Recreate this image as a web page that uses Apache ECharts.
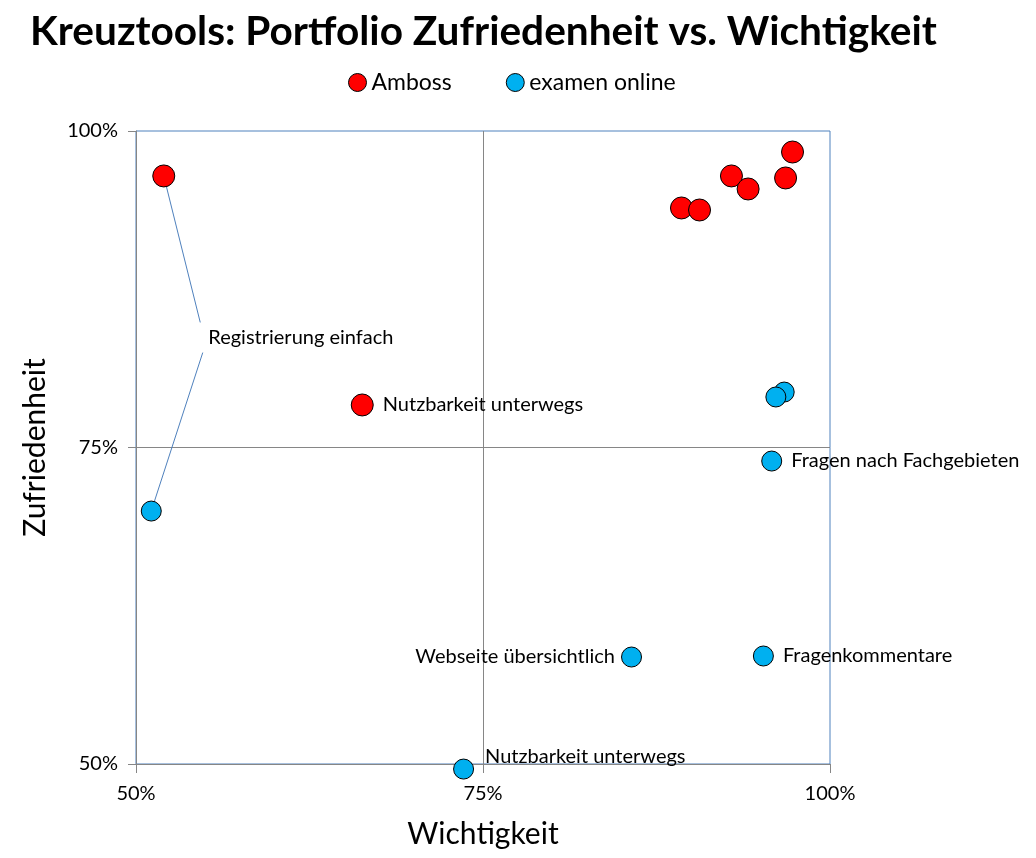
<!DOCTYPE html>
<html>
<head>
<meta charset="utf-8">
<script src="https://cdn.jsdelivr.net/npm/echarts@6/dist/echarts.min.js"></script>
<style>html,body{margin:0;padding:0;background:#fff}#c{width:1036px;height:858px}</style>
</head>
<body>
<div id="c"></div>
<script>
// Data (Wichtigkeit, Zufriedenheit) as fractions
const ambossX = [0.520, 0.663, 0.973, 0.968, 0.929, 0.941, 0.893, 0.906];
const ambossY = [0.9645, 0.7836, 0.9834, 0.9629, 0.9645, 0.9542, 0.9392, 0.9376];
const ambossLabels = ['Registrierung einfach', 'Nutzbarkeit unterwegs', '', '', '', '', '', ''];

const examenX = [0.511, 0.967, 0.961, 0.958, 0.857, 0.952, 0.736];
const examenY = [0.6998, 0.7938, 0.7899, 0.7393, 0.5845, 0.5853, 0.496];
const examenLabels = ['Registrierung einfach', '', '', 'Fragen nach Fachgebieten', 'Webseite übersichtlich', 'Fragenkommentare', 'Nutzbarkeit unterwegs'];

const xTicks = [0.5, 0.75, 1.0];
const yTicks = [0.5, 0.75, 1.0];

const FONT = 'Lato, "Open Sans", sans-serif';
const pct = v => Math.round(v * 100) + '%';

function labelFor(text, seriesName) {
  if (!text) return { show: false };
  const base = { show: true, formatter: text, fontFamily: FONT, fontSize: 20, color: '#000' };
  if (text === 'Registrierung einfach') {
    if (seriesName === 'Amboss') {
      return Object.assign(base, {
        position: [48, 133], align: 'left', verticalAlign: 'top',
        padding: [30, 0, 0, 8], backgroundColor: 'rgba(255,255,255,0)'
      });
    }
    return Object.assign(base, {
      position: [62, -148], align: 'left', verticalAlign: 'middle',
      color: 'rgba(0,0,0,0)'
    });
  }
  if (text === 'Webseite übersichtlich') return Object.assign(base, { position: 'left', distance: 6 });
  if (seriesName === 'examen online' && text === 'Nutzbarkeit unterwegs') {
    return Object.assign(base, { position: [32, -2], align: 'left', verticalAlign: 'middle' });
  }
  return Object.assign(base, { position: 'right', distance: 9 });
}

function build(xs, ys, labels, name) {
  return xs.map((x, i) => {
    const d = { value: [x, ys[i]], label: labelFor(labels[i], name) };
    d.labelLine = labels[i] === 'Registrierung einfach'
      ? { show: true, lineStyle: { color: '#4F81BD', width: 1 } }
      : { show: false };
    return d;
  });
}

const chart = echarts.init(document.getElementById('c'));
chart.setOption({
  animation: false,
  backgroundColor: '#fff',
  title: {
    text: 'Kreuztools: Portfolio Zufriedenheit vs. Wichtigkeit',
    left: 25, top: 6,
    textStyle: { fontFamily: FONT, fontWeight: 'bold', fontSize: 40.6, color: '#000' }
  },
  legend: {
    left: 343, top: 66,
    icon: 'circle', itemWidth: 18, itemHeight: 18, itemGap: 54,
    textStyle: { fontFamily: FONT, fontSize: 23, color: '#000' },
    data: [
      { name: 'Amboss', itemStyle: { color: '#FF0000', borderColor: '#000', borderWidth: 1 } },
      { name: 'examen online', itemStyle: { color: '#00B0F0', borderColor: '#000', borderWidth: 1 } }
    ]
  },
  grid: {
    left: 136, right: 206, top: 131, bottom: 94,
    show: true, borderColor: '#4F81BD', borderWidth: 1, backgroundColor: 'transparent'
  },
  xAxis: {
    type: 'value', min: 0.5, max: 1.0, interval: 0.25,
    name: 'Wichtigkeit', nameLocation: 'middle', nameGap: 55,
    nameTextStyle: { fontFamily: FONT, fontSize: 30, color: '#000' },
    axisLine: { show: true, lineStyle: { color: '#868686', width: 1 } },
    axisTick: { show: true, length: 9, lineStyle: { color: '#868686' } },
    axisLabel: { fontFamily: FONT, fontSize: 20, color: '#000', margin: 20, formatter: pct },
    splitLine: { show: true, lineStyle: { color: ['transparent', '#868686', 'transparent'], width: 1 } }
  },
  yAxis: {
    type: 'value', min: 0.5, max: 1.0, interval: 0.25,
    name: 'Zufriedenheit', nameLocation: 'middle', nameGap: 86,
    nameTextStyle: { fontFamily: FONT, fontSize: 30, color: '#000' },
    axisLine: { show: true, lineStyle: { color: '#868686', width: 1 } },
    axisTick: { show: true, length: 8, lineStyle: { color: '#868686' } },
    axisLabel: { fontFamily: FONT, fontSize: 20, color: '#000', margin: 18, formatter: pct },
    splitLine: { show: true, lineStyle: { color: ['transparent', '#868686', 'transparent'], width: 1 } }
  },
  series: [
    {
      name: 'Amboss', type: 'scatter', clip: false, symbol: 'circle', symbolSize: 22,
      itemStyle: { color: '#FF0000', borderColor: '#000', borderWidth: 1, opacity: 1 },
      labelLine: { show: false },
      data: build(ambossX, ambossY, ambossLabels, 'Amboss')
    },
    {
      name: 'examen online', type: 'scatter', clip: false, symbol: 'circle', symbolSize: 20,
      itemStyle: { color: '#00B0F0', borderColor: '#000', borderWidth: 1, opacity: 1 },
      labelLine: { show: false },
      data: build(examenX, examenY, examenLabels, 'examen online')
    }
  ]
});
</script>
</body>
</html>
